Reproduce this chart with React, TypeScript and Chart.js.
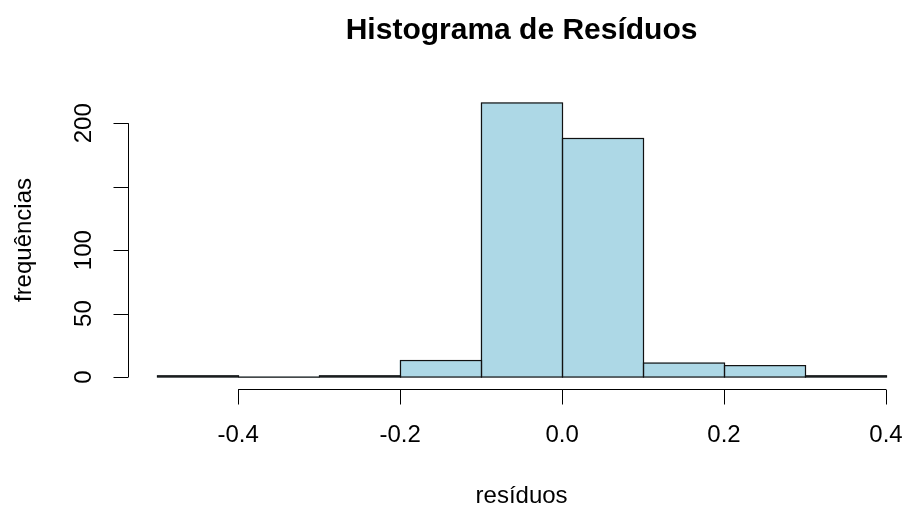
import React, { useEffect, useRef } from 'react';
import { Chart, registerables } from 'chart.js';

Chart.register(...registerables);

const breaks = [-0.5, -0.4, -0.3, -0.2, -0.1, 0, 0.1, 0.2, 0.3, 0.4];
const counts = [1, 0, 1, 13, 216, 188, 11, 9, 1];
const xTicks = [-0.4, -0.2, 0, 0.2, 0.4];
const xTickLabels = ['-0.4', '-0.2', '0.0', '0.2', '0.4'];
const yTicks = [0, 50, 100, 150, 200];
const yTickLabels = ['0', '50', '100', '', '200'];
const titleText = 'Histograma de Resíduos';
const xLabelText = 'resíduos';
const yLabelText = 'frequências';

const FONT = '"Liberation Sans", Arial, sans-serif';

export default function App() {
  const ref = useRef<HTMLCanvasElement | null>(null);

  useEffect(() => {
    document.body.style.margin = '0';
    const canvas = ref.current;
    if (!canvas) return;

    const xMin = breaks[0];
    const xMax = breaks[breaks.length - 1];
    const xPad = (xMax - xMin) * 0.04;
    const yMaxData = Math.max(...counts);
    const yPad = yMaxData * 0.04;

    const data = counts.map((c, i) => ({ x: (breaks[i] + breaks[i + 1]) / 2, y: c }));

    const axesPlugin = {
      id: 'rAxes',
      afterDatasetsDraw(chart: any) {
        const ctx = chart.ctx as CanvasRenderingContext2D;
        const xs = chart.scales.x;
        const ys = chart.scales.y;
        const area = chart.chartArea;
        ctx.save();
        // bar outlines (centered on edges, like R's rect)
        ctx.strokeStyle = '#111';
        ctx.lineWidth = 1.2;
        const meta = chart.getDatasetMeta(0);
        meta.data.forEach((el: any, i: number) => {
          const left = xs.getPixelForValue(breaks[i]);
          const right = xs.getPixelForValue(breaks[i + 1]);
          const top = el.y;
          const base = el.base;
          ctx.strokeRect(Math.round(left) + 0.5, top, Math.round(right) - Math.round(left), base - top);
        });

        // x axis
        ctx.strokeStyle = '#000';
        ctx.lineWidth = 1;
        const axY = Math.round(area.bottom) + 1.5;
        ctx.beginPath();
        ctx.moveTo(xs.getPixelForValue(xTicks[0]), axY);
        ctx.lineTo(xs.getPixelForValue(xTicks[xTicks.length - 1]), axY);
        xTicks.forEach((t) => {
          const px = Math.round(xs.getPixelForValue(t)) + 0.5;
          ctx.moveTo(px, axY);
          ctx.lineTo(px, axY + 15);
        });
        ctx.stroke();
        ctx.fillStyle = '#000';
        ctx.font = `24px ${FONT}`;
        ctx.textAlign = 'center';
        ctx.textBaseline = 'middle';
        xTicks.forEach((t, i) => {
          ctx.fillText(xTickLabels[i], xs.getPixelForValue(t), axY + 46);
        });

        // y axis
        const axX = Math.round(area.left) + 0.5;
        ctx.beginPath();
        ctx.moveTo(axX, ys.getPixelForValue(yTicks[0]));
        ctx.lineTo(axX, ys.getPixelForValue(yTicks[yTicks.length - 1]));
        yTicks.forEach((t) => {
          const py = Math.round(ys.getPixelForValue(t)) + 0.5;
          ctx.moveTo(axX, py);
          ctx.lineTo(axX - 15, py);
        });
        ctx.stroke();
        yTicks.forEach((t, i) => {
          if (!yTickLabels[i]) return;
          ctx.save();
          ctx.translate(axX - 44, ys.getPixelForValue(t));
          ctx.rotate(-Math.PI / 2);
          ctx.fillText(yTickLabels[i], 0, 0);
          ctx.restore();
        });

        // axis titles
        const cx = (area.left + xs.getPixelForValue(xMax + xPad)) / 2;
        ctx.fillText(xLabelText, cx, 496);
        ctx.save();
        ctx.translate(24, (ys.getPixelForValue(yMaxData + yPad) + ys.getPixelForValue(-yPad)) / 2);
        ctx.rotate(-Math.PI / 2);
        ctx.fillText(yLabelText, 0, 0);
        ctx.restore();

        // main title
        ctx.font = `bold 30px ${FONT}`;
        ctx.fillText(titleText, cx, 31);
        ctx.restore();
      },
    };

    const chart = new Chart(canvas, {
      type: 'bar',
      data: {
        datasets: [
          {
            data,
            backgroundColor: '#ADD8E6',
            borderWidth: 0,
            barPercentage: 1,
            categoryPercentage: 1,
          },
        ],
      },
      options: {
        responsive: false,
        maintainAspectRatio: false,
        devicePixelRatio: 1,
        animation: false,
        layout: { padding: { left: 128, right: 0, top: 92, bottom: 119 } },
        plugins: { legend: { display: false }, tooltip: { enabled: false }, title: { display: false } },
        scales: {
          x: {
            type: 'linear',
            display: false,
            offset: false,
            min: xMin - xPad,
            max: xMax + 20 / 810,
          },
          y: {
            display: false,
            min: -yPad,
            max: yMaxData + yPad,
          },
        },
      },
      plugins: [axesPlugin],
    });

    return () => chart.destroy();
  }, []);

  return <canvas ref={ref} width={906} height={507} style={{ display: 'block' }} />;
}
